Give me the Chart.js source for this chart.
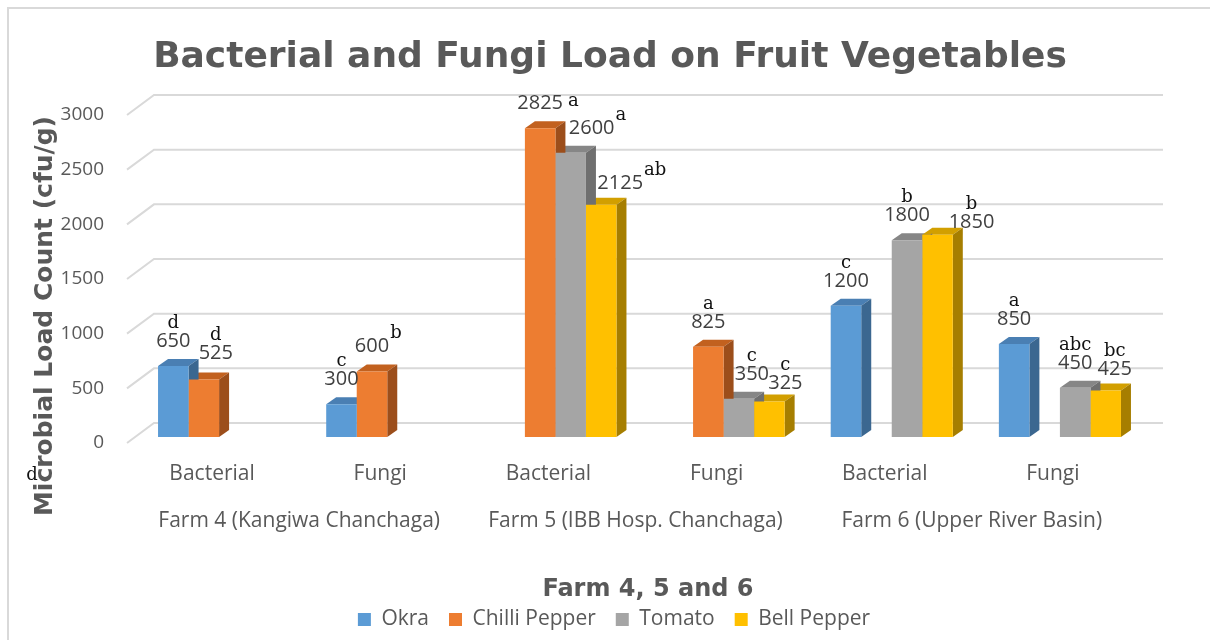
<!DOCTYPE html>
<html>
<head>
<meta charset="utf-8">
<title>Bacterial and Fungi Load on Fruit Vegetables</title>
<script src="https://cdn.jsdelivr.net/npm/chart.js@4.4.1/dist/chart.umd.min.js"></script>
<style>
  html, body { margin: 0; padding: 0; background: #fff; }
  #chartContainer { width: 1210px; height: 640px; }
</style>
</head>
<body>
<div id="chartContainer"><canvas id="chartCanvas" width="1210" height="640"></canvas></div>
<script>
// sample type of each column group, left to right
const sampleTypes = ["Bacterial", "Fungi", "Bacterial", "Fungi", "Bacterial", "Fungi"];
const farmNames = ["Farm 4 (Kangiwa Chanchaga)", "Farm 5 (IBB Hosp. Chanchaga)", "Farm 6 (Upper River Basin)"];

// microbial load (cfu/g), null where the crop was not sampled on that farm
const okra = [650, 300, null, null, 1200, 850];
const chilliPepper = [525, 600, 2825, 825, null, null];
const tomato = [null, null, 2600, 350, 1800, 450];
const bellPepper = [null, null, 2125, 325, 1850, 425];

// significance letters printed with each value
const okraLetters = ["d", "c", null, null, "c", "a"];
const chilliLetters = ["d", "b", "a", "a", null, null];
const tomatoLetters = [null, null, "a", "c", "b", "abc"];
const bellLetters = [null, null, "ab", "c", "b", "bc"];

const yTicks = [0, 500, 1000, 1500, 2000, 2500, 3000];

// how each value label sits: letter mode, then a nudge [dx, dy] so crowded labels don't collide
const labelLayout = [
  [["above", 0, 0], ["above", 0, 0], null, null, ["above", 0, 0], ["above", 0, 0]],
  [["above", 12, -2], ["sup", 0, 0], ["side", 0, 0], ["above", 0, 0], null, null],
  [null, null, ["sup", 21, 0], ["above", 13, 0], ["above", 0, 0], ["above", 0, 0]],
  [null, null, ["sup", 19, 3], ["above", 16, 7], ["above", 34, 12], ["above", 9, 3]]
];

const DX = 10, DY = 7; // depth of each column
const textGrey = "#595959";

const depthPlugin = {
  id: "depth",
  beforeDraw(chart) {
    const ctx = chart.ctx;
    ctx.save();
    ctx.strokeStyle = "#d9d9d9";
    ctx.lineWidth = 2;
    ctx.beginPath();
    ctx.moveTo(8, chart.height);
    ctx.lineTo(8, 8);
    ctx.lineTo(chart.width, 8);
    ctx.stroke();
    ctx.restore();
  },
  beforeDatasetsDraw(chart) {
    const {ctx, chartArea, scales: {y}} = chart;
    ctx.save();
    // back wall gridlines, with the short slant to the front of the floor
    ctx.strokeStyle = "#d9d9d9";
    ctx.lineWidth = 2;
    yTicks.forEach(v => {
      const py = y.getPixelForValue(v);
      ctx.beginPath();
      ctx.moveTo(chartArea.left - 8, py + 6);
      ctx.lineTo(chartArea.left + 19, py - 14);
      ctx.lineTo(chartArea.right + 19, py - 14);
      ctx.stroke();
    });
    // value labels sit on the front edge of the floor, left of the slant
    ctx.fillStyle = textGrey;
    ctx.font = "19px 'Open Sans'";
    ctx.textAlign = "right";
    ctx.textBaseline = "middle";
    yTicks.forEach(v => {
      ctx.fillText(String(v), chartArea.left - 31, y.getPixelForValue(v) + 6);
    });

    const bars = [];
    chart.data.datasets.forEach((ds, i) => {
      chart.getDatasetMeta(i).data.forEach((bar, j) => {
        if (ds.data[j] == null) return;
        bars.push({bar, ds});
      });
    });
    // tops first, then sides; Chart.js paints the front faces over them afterwards
    bars.forEach(({bar, ds}) => {
      const l = bar.x - bar.width / 2, r = bar.x + bar.width / 2;
      ctx.fillStyle = ds.topColor;
      ctx.beginPath();
      ctx.moveTo(l, bar.y);
      ctx.lineTo(l + DX, bar.y - DY);
      ctx.lineTo(r + DX, bar.y - DY);
      ctx.lineTo(r, bar.y);
      ctx.closePath();
      ctx.fill();
    });
    bars.forEach(({bar, ds}) => {
      const r = bar.x + bar.width / 2;
      ctx.fillStyle = ds.sideColor;
      ctx.beginPath();
      ctx.moveTo(r, bar.y);
      ctx.lineTo(r + DX, bar.y - DY);
      ctx.lineTo(r + DX, bar.base - DY);
      ctx.lineTo(r, bar.base);
      ctx.closePath();
      ctx.fill();
    });
    ctx.restore();
  },
  afterDatasetsDraw(chart) {
    const ctx = chart.ctx;
    ctx.save();
    ctx.textBaseline = "alphabetic";
    chart.data.datasets.forEach((ds, i) => {
      chart.getDatasetMeta(i).data.forEach((bar, j) => {
        const v = ds.data[j];
        if (v == null) return;
        const [mode, dx, dy] = labelLayout[i][j];
        const cx = bar.x + dx;
        const base = bar.y - 19 + dy;
        const text = String(v);
        ctx.font = "20px 'Open Sans'";
        ctx.fillStyle = "#404040";
        ctx.textAlign = "center";
        ctx.fillText(text, cx, base);
        const letter = ds.letters[j];
        if (!letter) return;
        const w = ctx.measureText(text).width;
        ctx.font = "18px 'DejaVu Serif'";
        ctx.fillStyle = "#111111";
        if (mode === "above") {
          ctx.textAlign = "center";
          ctx.fillText(letter, cx, base - 19);
        } else if (mode === "sup") {
          ctx.textAlign = "left";
          ctx.fillText(letter, cx + w / 2 + 1, base - 14);
        } else {
          ctx.textAlign = "left";
          ctx.fillText(letter, cx + w / 2 + 5, base - 3);
        }
      });
    });
    ctx.restore();
  },
  afterDraw(chart) {
    const {ctx, scales: {x}} = chart;
    ctx.save();
    ctx.textBaseline = "alphabetic";
    ctx.fillStyle = textGrey;

    // two-level category axis
    ctx.textAlign = "center";
    ctx.font = "21px 'Open Sans'";
    sampleTypes.forEach((t, j) => ctx.fillText(t, x.getPixelForValue(j) - 7, 480));
    farmNames.forEach((f, k) => {
      const mid = (x.getPixelForValue(2 * k) + x.getPixelForValue(2 * k + 1)) / 2;
      ctx.fillText(f, mid - 4, 527);
    });

    ctx.font = "bold 36px 'DejaVu Sans'";
    ctx.fillText("Bacterial and Fungi Load on Fruit Vegetables", 610, 67);
    ctx.font = "bold 24px 'DejaVu Sans'";
    ctx.fillText("Farm 4, 5 and 6", 648, 596);

    ctx.save();
    ctx.translate(52, 316);
    ctx.rotate(-Math.PI / 2);
    ctx.font = "bold 25px 'DejaVu Sans'";
    ctx.fillText("Microbial Load Count (cfu/g)", 0, 0);
    ctx.restore();

    ctx.font = "18px 'DejaVu Serif'";
    ctx.fillStyle = "#111111";
    ctx.fillText("d", 32, 480);
    ctx.restore();
  }
};

function createChart() {
  new Chart("chartCanvas", {
    type: "bar",
    data: {
      labels: sampleTypes,
      datasets: [
        { label: "Okra", data: okra, letters: okraLetters, backgroundColor: "#5B9BD5", topColor: "#4A7FB3", sideColor: "#3B6790" },
        { label: "Chilli Pepper", data: chilliPepper, letters: chilliLetters, backgroundColor: "#ED7D31", topColor: "#C2611F", sideColor: "#9C4E1B" },
        { label: "Tomato", data: tomato, letters: tomatoLetters, backgroundColor: "#A5A5A5", topColor: "#868686", sideColor: "#6F6F6F" },
        { label: "Bell Pepper", data: bellPepper, letters: bellLetters, backgroundColor: "#FFC000", topColor: "#D29F00", sideColor: "#A67E00" }
      ]
    },
    options: {
      responsive: false,
      animation: false,
      events: [],
      categoryPercentage: 0.726,
      barPercentage: 1,
      borderWidth: 0,
      layout: { padding: { top: 109, left: 84, right: 66, bottom: 0 } },
      plugins: {
        title: { display: false },
        tooltip: { enabled: false },
        legend: {
          position: "bottom",
          labels: {
            boxWidth: 13,
            boxHeight: 13,
            padding: 20,
            color: textGrey,
            font: { family: "'Open Sans'", size: 21 }
          }
        }
      },
      scales: {
        x: {
          grid: { display: false },
          border: { display: false },
          ticks: { display: false },
          afterFit: s => { s.height = 152; }
        },
        y: {
          min: 0,
          max: 3000,
          grid: { display: false, drawTicks: false },
          border: { display: false },
          ticks: { stepSize: 500, display: false },
          afterFit: s => { s.width = 51; }
        }
      }
    },
    plugins: [depthPlugin]
  });
}

createChart();
</script>
</body>
</html>
